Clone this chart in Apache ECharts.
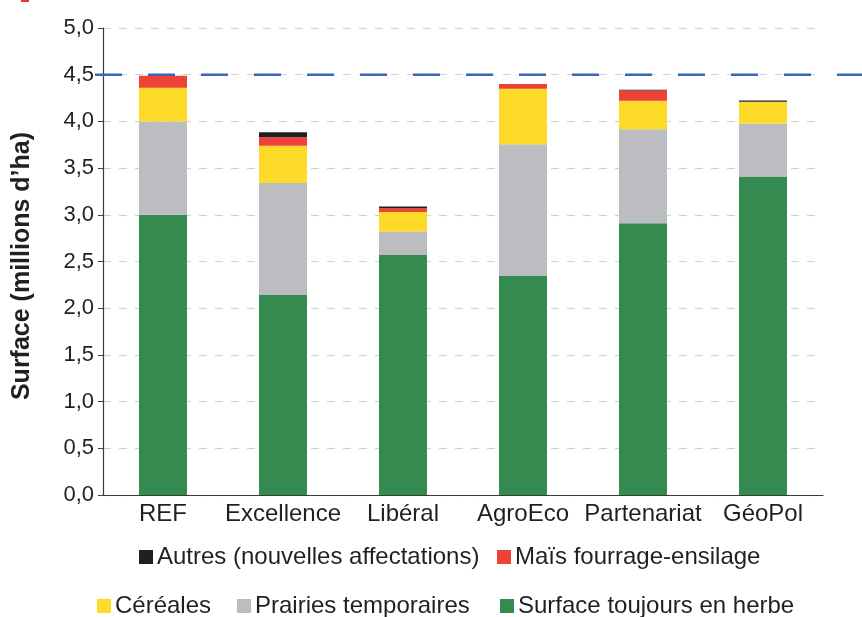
<!DOCTYPE html>
<html><head><meta charset="utf-8">
<script src="https://cdn.jsdelivr.net/npm/echarts@6/dist/echarts.min.js"></script>
<style>html,body{margin:0;padding:0;background:#fff}#c{width:862px;height:617px}</style>
</head><body><div id="c"></div>
<script>
const categories = ['REF','Excellence','Libéral','AgroEco','Partenariat','GéoPol'];
const surfaceHerbe = [3.00, 2.14, 2.57, 2.345, 2.91, 3.41];
const prairiesTemp = [1.00, 1.20, 0.25, 1.41, 1.005, 0.565];
const cereales     = [0.36, 0.40, 0.21, 0.595, 0.305, 0.235];
const maisEnsilage = [0.13, 0.09, 0.04, 0.05, 0.11, 0];
const autres       = [0, 0.055, 0.02, 0, 0.01, 0.015];
const referenceLevel = 4.5;
const yMin = 0, yMax = 5, yStep = 0.5;

const names = {
  autres: 'Autres (nouvelles affectations)',
  mais: 'Maïs fourrage-ensilage',
  cer: 'Céréales',
  prai: 'Prairies temporaires',
  surf: 'Surface toujours en herbe'
};
const FONT = '"Liberation Sans", Arial, sans-serif';
const TXT = '#231f20';

const chart = echarts.init(document.getElementById('c'), null, {renderer:'canvas'});
function bar(name, data, color){
  return {name, type:'bar', stack:'s', data, barWidth:48, xAxisIndex:0, yAxisIndex:0,
    itemStyle:{color}, emphasis:{disabled:true}, animation:false};
}
function leg(name, left, top){
  return {data:[name], left, top, itemWidth:14, itemHeight:14, itemGap:0, icon:'rect',
    padding:0, textStyle:{color:TXT, fontSize:24, fontFamily:FONT, padding:[0,0,0,-1]}, selectedMode:false};
}
chart.setOption({
  animation:false,
  textStyle:{fontFamily:FONT},
  graphic:[{type:'rect', shape:{x:21,y:0,width:8,height:2}, style:{fill:'#e8392c'}}],
  grid:[
    {left:103, right:39, top:28, bottom:122},
    {left:95, right:0, top:28, bottom:122}
  ],
  xAxis:[
    {type:'category', gridIndex:0, data:categories,
     axisLine:{show:true, lineStyle:{color:'#3a3a3a', width:1.2}},
     axisTick:{show:false},
     axisLabel:{color:TXT, fontSize:24, fontFamily:FONT, margin:7, interval:0}},
    {type:'value', gridIndex:1, min:0, max:1, show:false}
  ],
  yAxis:[
    {type:'value', gridIndex:0, min:yMin, max:yMax, interval:yStep,
     name:'Surface (millions d\u2019ha)', nameLocation:'middle', nameGap:68,
     nameTextStyle:{color:TXT, fontSize:25, fontWeight:'bold', fontFamily:FONT, padding:[0,9,0,0]},
     axisLine:{show:true, lineStyle:{color:'#3a3a3a', width:1.2}},
     axisTick:{show:true, length:5, lineStyle:{color:'#3a3a3a'}},
     axisLabel:{color:TXT, fontSize:22, fontFamily:FONT, margin:9,
       formatter:v=>v.toFixed(1).replace('.',',')},
     splitLine:{show:true, lineStyle:{color:'#d4d4d4', type:[8,8], width:1.2}}},
    {type:'value', gridIndex:1, min:yMin, max:yMax, show:false}
  ],
  legend:[
    leg(names.autres, 139, 545),
    leg(names.mais, 497, 545),
    leg(names.cer, 97, 594),
    leg(names.prai, 237, 594),
    leg(names.surf, 500, 594)
  ],
  series:[
    bar(names.surf, surfaceHerbe, '#358a4f'),
    bar(names.prai, prairiesTemp, '#bcbdc0'),
    bar(names.cer, cereales, '#fedb29'),
    bar(names.mais, maisEnsilage, '#ef4136'),
    bar(names.autres, autres, '#231f20'),
    {type:'line', xAxisIndex:1, yAxisIndex:1, symbol:'none', silent:true,
     data:[[0,referenceLevel],[1,referenceLevel]],
     lineStyle:{color:'#3a66b8', width:2.5, type:[27,26]}}
  ]
});
</script></body></html>
